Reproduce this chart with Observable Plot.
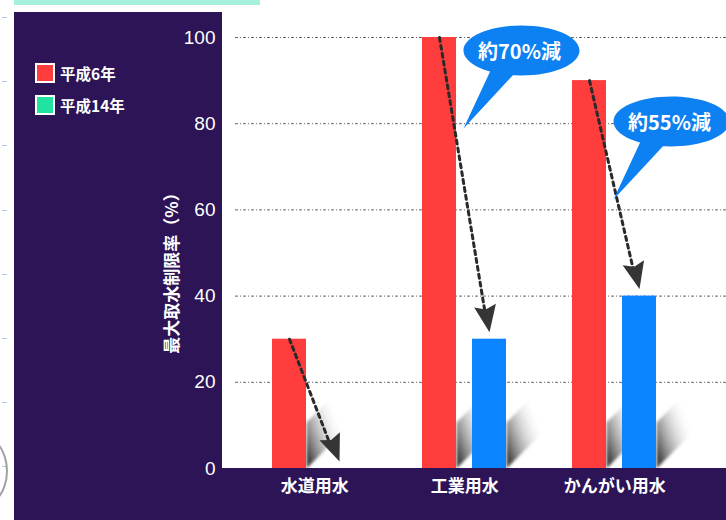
<!DOCTYPE html>
<html><head><meta charset="utf-8">
<script src="https://cdn.jsdelivr.net/npm/d3@7"></script>
<script src="https://cdn.jsdelivr.net/npm/@observablehq/plot@0.6"></script>
<style>
body{margin:0;background:#fff;}
#wrap{position:relative;width:726px;height:520px;overflow:hidden;background:#fff;font-family:"Noto Sans CJK JP",sans-serif;}
.abs{position:absolute;}
#teal{left:14px;top:0;width:246px;height:5px;background:#a6f0dc;}
#panel{left:14px;top:12px;width:208px;height:508px;background:#2c1456;}
#bottom{left:14px;top:468px;width:712px;height:52px;background:#2c1456;}
#circle{left:-62px;top:430px;width:66px;height:78px;border:2px solid #a0a0a0;border-radius:50%;}
#dash{left:2px;top:0;width:5px;height:520px;background:repeating-linear-gradient(to bottom,transparent 0 17px,#b8c4ee 17px 18px,transparent 18px 64.2px);}
.leg{position:absolute;left:35px;width:16px;height:16px;border:2px solid #fff;}
.legt{position:absolute;left:60px;color:#fff;font-weight:bold;font-size:15.5px;line-height:20px;}
#chart{position:absolute;left:0;top:0;}
.shadow{filter:blur(1.5px);}
</style></head>
<body>
<div id="wrap">
  <div class="abs" id="dash"></div>
  <div class="abs" id="circle"></div>
  <div class="abs" id="teal"></div>
  <div class="abs" id="panel"></div>
  <div class="abs" id="bottom"></div>
  <div class="leg" style="top:63px;background:#ff3d3d"></div>
  <div class="legt" style="top:63px">平成6年</div>
  <div class="leg" style="top:95px;background:#20e3a2"></div>
  <div class="legt" style="top:95px">平成14年</div>
  <div id="chart"></div>
</div>
<script>
// ---- data ----
const categories = ["水道用水", "工業用水", "かんがい用水"];
const seriesNames = ["平成6年", "平成14年"];
const valuesH6 = [30, 100, 90];
const valuesH14 = [0, 30, 40];
const yTicks = [0, 20, 40, 60, 80, 100];
const yLabel = "最大取水制限率（%）";
const calloutCategories = ["工業用水", "かんがい用水"];
const calloutLabels = ["約70%減", "約55%減"];
const calloutY = [97, 80.5];

// ---- layout / style ----
const W = 726, H = 520, ML = 222, MR = 0, MT = 37, MB = 52;
const PI = 0.327, PO = 1.153, ALIGN = 0.412;
const RED = "#ff3d3d", BLUE = "#0a84ff";
const key = (c, s) => c + "|" + s;
const domain = [];
categories.forEach((c, i) => {
  domain.push(key(c, seriesNames[0]), key(c, seriesNames[1]));
  if (i < categories.length - 1) domain.push("gap" + i);
});
const step = (W - ML - MR) / (domain.length - PI + 2 * PO);
const bw = step * (1 - PI);
const pxPerUnit = (H - MT - MB) / 100;

const rows = [];
categories.forEach((c, i) => {
  rows.push({key: key(c, seriesNames[0]), series: seriesNames[0], value: valuesH6[i]});
  rows.push({key: key(c, seriesNames[1]), series: seriesNames[1], value: valuesH14[i]});
});
const arrows = categories.map((c, i) => ({
  x1: key(c, seriesNames[0]), y1: valuesH6[i],
  x2: key(c, seriesNames[1]), y2: valuesH14[i],
  rot: -Math.atan2(step, (valuesH6[i] - valuesH14[i]) * pxPerUnit) * 180 / Math.PI
}));
const callouts = calloutCategories.map((c, i) => ({x: key(c, seriesNames[1]), y: calloutY[i], label: calloutLabels[i]}));

const headSymbol = {draw(ctx) {
  ctx.moveTo(0, 0); ctx.lineTo(-11, -27); ctx.lineTo(0, -23); ctx.lineTo(11, -27); ctx.closePath();
}};
const shadowSymbol = {draw(ctx) {
  ctx.moveTo(0, 0); ctx.lineTo(0, -46); ctx.lineTo(34, -80); ctx.lineTo(34, -34); ctx.closePath();
}};
const bubbleSymbol = {draw(ctx) {
  const rx = 58, ry = 25, k = 0.5523;
  ctx.moveTo(rx, 0);
  ctx.bezierCurveTo(rx, k * ry, k * rx, ry, 0, ry);
  ctx.bezierCurveTo(-k * rx, ry, -rx, k * ry, -rx, 0);
  ctx.bezierCurveTo(-rx, -k * ry, -k * rx, -ry, 0, -ry);
  ctx.bezierCurveTo(k * rx, -ry, rx, -k * ry, rx, 0);
  ctx.closePath();
  ctx.moveTo(-30, 18); ctx.lineTo(-6, 22); ctx.lineTo(-58, 78); ctx.closePath();
}};

const defs = () => {
  const d = d3.create("svg:defs");
  const g = d.append("linearGradient").attr("id", "shadowGrad")
    .attr("x1", 0).attr("y1", 0.8).attr("x2", 0.8).attr("y2", 0.1);
  g.append("stop").attr("offset", 0).attr("stop-color", "#222").attr("stop-opacity", 0.85);
  g.append("stop").attr("offset", 0.45).attr("stop-color", "#777").attr("stop-opacity", 0.4);
  g.append("stop").attr("offset", 0.9).attr("stop-color", "#ddd").attr("stop-opacity", 0);
  return d.node();
};

const numFont = "'Liberation Sans Narrow','Liberation Sans',Arial,sans-serif";
const cjkFont = "'Noto Sans CJK JP',sans-serif";

const chart = Plot.plot({
  width: W, height: H,
  marginLeft: ML, marginRight: MR, marginTop: MT, marginBottom: MB,
  style: {background: "transparent", overflow: "visible", fontFamily: cjkFont},
  x: {type: "band", domain, paddingInner: PI, paddingOuter: PO, align: ALIGN},
  y: {domain: [0, 100]},
  color: {domain: seriesNames, range: [RED, BLUE]},
  marks: [
    defs,
    Plot.ruleY(yTicks.filter(d => d > 0), {stroke: "#666", strokeWidth: 1, strokeDasharray: "3,2,1,2", insetLeft: 13}),
    Plot.dot(rows.filter(d => d.value > 0), {x: "key", y: 0, dx: bw / 2, symbol: shadowSymbol, fill: "url(#shadowGrad)", stroke: "none", className: "shadow"}),
    Plot.barY(rows, {x: "key", y: "value", fill: "series"}),
    Plot.arrow(arrows, {x1: "x1", y1: "y1", x2: "x2", y2: "y2", stroke: "#2a2a2a", strokeWidth: 3,
      strokeDasharray: "4,4", headLength: 0, insetEnd: 28}),
    Plot.dot(arrows, {x: "x2", y: "y2", dy: -7, symbol: headSymbol, rotate: "rot", fill: "#353535", stroke: "none"}),
    Plot.dot(callouts, {x: "x", y: "y", dx: 32, symbol: bubbleSymbol, fill: "#0d80f2", stroke: "none"}),
    Plot.text(callouts, {x: "x", y: "y", dx: 30, dy: 2, text: "label", fill: "white", fontSize: 20, fontWeight: "bold", fontFamily: cjkFont}),
    Plot.axisY({ticks: yTicks, tickSize: 0, tickPadding: 7, fill: "white", fontSize: 19, fontFamily: numFont, label: null}),
    Plot.axisX({ticks: domain.filter(k => k.endsWith("|" + seriesNames[0])), tickFormat: k => k.split("|")[0],
      tickSize: 0, tickPadding: 11, dx: step / 2, fill: "white", fontSize: 17, fontWeight: "bold", fontFamily: cjkFont, label: null}),
    Plot.text([yLabel], {frameAnchor: "left", textAnchor: "middle", dx: -50, dy: 16, rotate: -90, fill: "white", fontSize: 17, fontWeight: "bold", fontFamily: cjkFont})
  ]
});
document.getElementById("chart").appendChild(chart);
</script>
</body></html>
